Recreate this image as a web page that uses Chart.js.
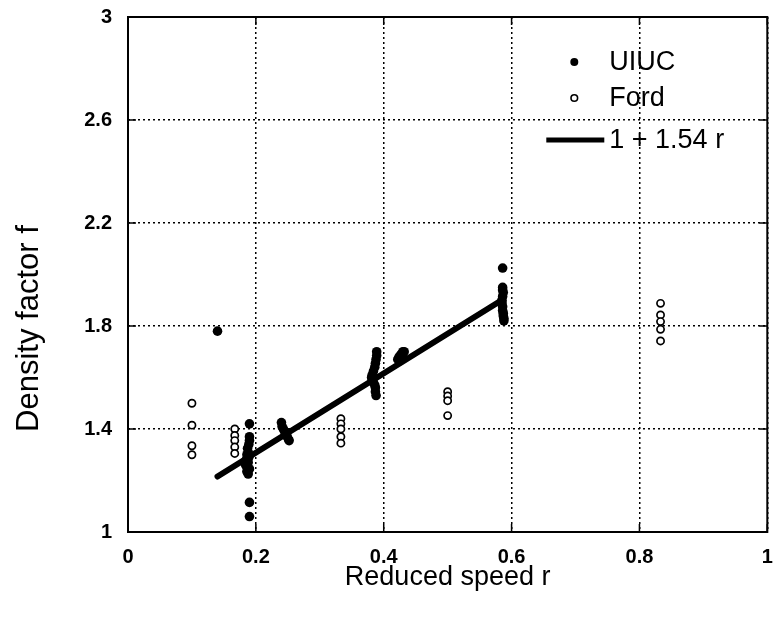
<!DOCTYPE html>
<html>
<head>
<meta charset="utf-8">
<script src="https://cdn.jsdelivr.net/npm/chart.js@4/dist/chart.umd.min.js"></script>
<style>
  html, body { margin: 0; padding: 0; background: #fff; }
  #wrap { width: 773px; height: 620px; }
</style>
</head>
<body>
<div id="wrap"><canvas id="chart" width="773" height="620"></canvas></div>
<script>
// Measured density factor f against reduced speed r

// UIUC measurements (filled markers)
const UIUC_R = [
  0.140,
  0.190, 0.190, 0.190, 0.189, 0.187, 0.188, 0.186, 0.189, 0.185, 0.188, 0.184, 0.187, 0.190, 0.186, 0.188, 0.190, 0.190,
  0.240, 0.241, 0.243, 0.245, 0.247, 0.249, 0.251, 0.252,
  0.389, 0.389, 0.388, 0.387, 0.386, 0.384, 0.382, 0.381, 0.382, 0.384, 0.386, 0.387, 0.387, 0.388,
  0.422, 0.424, 0.427, 0.430, 0.432, 0.428, 0.425,
  0.586, 0.586, 0.586, 0.587, 0.586, 0.585, 0.585, 0.586, 0.586, 0.587, 0.587, 0.588, 0.588
];
const UIUC_F = [
  1.78,
  1.42, 1.37, 1.355, 1.34, 1.325, 1.31, 1.30, 1.29, 1.28, 1.27, 1.26, 1.25, 1.245, 1.235, 1.225, 1.115, 1.06,
  1.425, 1.41, 1.40, 1.39, 1.38, 1.37, 1.36, 1.355,
  1.70, 1.685, 1.67, 1.655, 1.64, 1.625, 1.61, 1.60, 1.59, 1.58, 1.57, 1.56, 1.545, 1.53,
  1.67, 1.68, 1.69, 1.70, 1.70, 1.675, 1.665,
  2.025, 1.95, 1.94, 1.93, 1.915, 1.90, 1.89, 1.875, 1.86, 1.85, 1.84, 1.83, 1.82
];

// Ford measurements (open markers)
const FORD_R = [
  0.100, 0.100, 0.100, 0.100,
  0.167, 0.167, 0.167, 0.167, 0.167,
  0.333, 0.333, 0.333, 0.333, 0.333,
  0.500, 0.500, 0.500, 0.500,
  0.833, 0.833, 0.833, 0.833, 0.833
];
const FORD_F = [
  1.50, 1.415, 1.335, 1.30,
  1.40, 1.375, 1.355, 1.33, 1.305,
  1.44, 1.42, 1.40, 1.37, 1.345,
  1.545, 1.528, 1.51, 1.452,
  1.888, 1.843, 1.817, 1.787, 1.742
];

// Linear fit f = FIT_A + FIT_B * r, drawn over the UIUC speed range
const FIT_A = 1;
const FIT_B = 1.54;
const FIT_RANGE = [0.14, 0.585];

// Axis ticks and labels
const X_TICKS = [0, 0.2, 0.4, 0.6, 0.8, 1];
const X_LABELS = ['0', '0.2', '0.4', '0.6', '0.8', '1'];
const Y_TICKS = [1, 1.4, 1.8, 2.2, 2.6, 3];
const Y_LABELS = ['1', '1.4', '1.8', '2.2', '2.6', '3'];

const X_TITLE = 'Reduced speed r';
const Y_TITLE = 'Density factor f';
const SERIES_NAMES = ['UIUC', 'Ford', FIT_A + ' + ' + FIT_B + ' r'];

const FONT = '"Liberation Sans", Arial, Helvetica, sans-serif';

const zip = (xs, ys) => xs.map((x, i) => ({ x: x, y: ys[i] }));
const fitPoints = FIT_RANGE.map(r => ({ x: r, y: FIT_A + FIT_B * r }));

// Solid frame around the plot with short inward tick marks
const framePlugin = {
  id: 'frame',
  afterDatasetsDraw(chart) {
    const { ctx, chartArea: a, scales } = chart;
    ctx.save();
    ctx.strokeStyle = '#000';
    ctx.lineWidth = 2;
    ctx.setLineDash([]);
    ctx.strokeRect(a.left, a.top, a.right - a.left, a.bottom - a.top);
    ctx.lineWidth = 1.5;
    const len = 8;
    ctx.beginPath();
    scales.x.ticks.forEach(t => {
      const px = scales.x.getPixelForValue(t.value);
      ctx.moveTo(px, a.bottom); ctx.lineTo(px, a.bottom - len);
      ctx.moveTo(px, a.top); ctx.lineTo(px, a.top + len);
    });
    scales.y.ticks.forEach(t => {
      const py = scales.y.getPixelForValue(t.value);
      ctx.moveTo(a.left, py); ctx.lineTo(a.left + len, py);
      ctx.moveTo(a.right, py); ctx.lineTo(a.right - len, py);
    });
    ctx.stroke();
    ctx.restore();
  }
};

// Vertical y-axis title
const yTitlePlugin = {
  id: 'yTitle',
  afterDraw(chart) {
    const { ctx } = chart;
    const y = chart.scales.y.getPixelForValue(1.79);
    ctx.save();
    ctx.translate(29, y);
    ctx.rotate(-Math.PI / 2);
    ctx.fillStyle = '#000';
    ctx.font = '31px ' + FONT;
    ctx.textAlign = 'center';
    ctx.textBaseline = 'middle';
    ctx.fillText(Y_TITLE, 0, 0);
    ctx.restore();
  }
};

// Legend inside the upper right corner of the plot
const legendPlugin = {
  id: 'innerLegend',
  afterDraw(chart) {
    const { ctx, chartArea: a } = chart;
    const symX = a.right - 193;
    const textX = a.right - 158;
    const rows = [a.top + 45, a.top + 81, a.top + 123];
    ctx.save();
    ctx.fillStyle = '#000';
    ctx.strokeStyle = '#000';
    // filled dot
    ctx.beginPath();
    ctx.arc(symX, rows[0], 4, 0, Math.PI * 2);
    ctx.fill();
    // open circle
    ctx.lineWidth = 1.6;
    ctx.beginPath();
    ctx.arc(symX, rows[1], 3.3, 0, Math.PI * 2);
    ctx.stroke();
    // fit line sample
    ctx.lineWidth = 5;
    ctx.beginPath();
    ctx.moveTo(a.right - 221, rows[2]);
    ctx.lineTo(a.right - 163, rows[2]);
    ctx.stroke();
    ctx.font = '27px ' + FONT;
    ctx.textAlign = 'left';
    ctx.textBaseline = 'middle';
    ctx.fillText(SERIES_NAMES[0], textX, rows[0] + 1);
    ctx.fillText(SERIES_NAMES[1], textX, rows[1] + 1);
    ctx.fillText(SERIES_NAMES[2], textX, rows[2] + 1);
    ctx.restore();
  }
};

new Chart(document.getElementById('chart'), {
  type: 'scatter',
  data: {
    datasets: [
      {
        label: SERIES_NAMES[1],
        data: zip(FORD_R, FORD_F),
        pointRadius: 3.6,
        pointBorderWidth: 1.7,
        pointBackgroundColor: '#fff',
        pointBorderColor: '#000',
        order: 3
      },
      {
        label: SERIES_NAMES[0],
        data: zip(UIUC_R, UIUC_F),
        pointRadius: 4.8,
        pointBorderWidth: 0,
        pointBackgroundColor: '#000',
        pointBorderColor: '#000',
        order: 2
      },
      {
        type: 'line',
        label: SERIES_NAMES[2],
        data: fitPoints,
        borderColor: '#000',
        borderWidth: 6,
        borderCapStyle: 'round',
        pointRadius: 0,
        fill: false,
        order: 1
      }
    ]
  },
  options: {
    responsive: false,
    animation: false,
    devicePixelRatio: 1,
    layout: { padding: { left: 0, top: 17, right: 5, bottom: 0 } },
    plugins: {
      legend: { display: false },
      tooltip: { enabled: false }
    },
    scales: {
      x: {
        type: 'linear',
        min: 0,
        max: 1,
        afterBuildTicks: s => { s.ticks = X_TICKS.map(v => ({ value: v })); },
        afterFit: s => { s.height = 88; s.paddingLeft = 0; s.paddingRight = 0; },
        ticks: {
          callback: v => X_LABELS[X_TICKS.indexOf(v)],
          color: '#000',
          padding: 13,
          maxRotation: 0,
          autoSkip: false,
          font: { family: FONT, size: 20, weight: 'bold' }
        },
        grid: { color: '#000', lineWidth: 1.5, drawTicks: false },
        border: { display: false, dash: [2, 3] },
        title: {
          display: true,
          text: X_TITLE,
          color: '#000',
          font: { family: FONT, size: 27 },
          padding: { top: 0, bottom: 26 }
        }
      },
      y: {
        type: 'linear',
        min: 1,
        max: 3,
        afterBuildTicks: s => { s.ticks = Y_TICKS.map(v => ({ value: v })); },
        afterFit: s => { s.width = 128; s.paddingTop = 0; s.paddingBottom = 0; },
        ticks: {
          callback: v => Y_LABELS[Y_TICKS.indexOf(v)],
          color: '#000',
          padding: 16,
          autoSkip: false,
          font: { family: FONT, size: 20, weight: 'bold' }
        },
        grid: { color: '#000', lineWidth: 1.5, drawTicks: false },
        border: { display: false, dash: [2, 3] },
        title: { display: false }
      }
    }
  },
  plugins: [framePlugin, yTitlePlugin, legendPlugin]
});
</script>
</body>
</html>
